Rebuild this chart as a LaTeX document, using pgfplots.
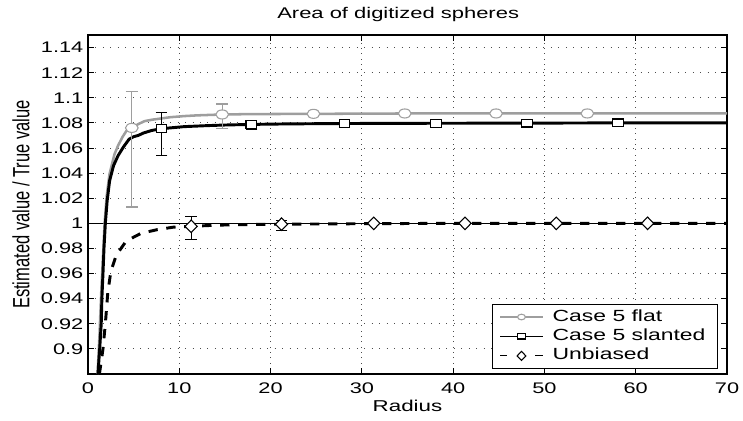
\documentclass[border=0pt]{standalone}
\usepackage{fontspec}
\setmainfont{Liberation Sans}
\usepackage{graphicx}
\usepackage{pgfplots}
\pgfplotsset{compat=1.18}
\definecolor{mgray}{gray}{0.62}
\newcommand{\wide}[1]{\scalebox{1.42}[1]{#1}}
\begin{document}
\begin{tikzpicture}
\begin{axis}[
  scale only axis, width=479.25pt, height=254.25pt,
  xmin=0, xmax=70, ymin=0.88, ymax=1.15,
  xtick={0,10,20,30,40,50,60,70},
  ytick={0.9,0.92,0.94,0.96,0.98,1,1.02,1.04,1.06,1.08,1.1,1.12,1.14},
  /pgf/number format/assume math mode=true,
  xticklabel={\wide{\pgfmathprintnumber{\tick}}},
  yticklabel={\wide{\pgfmathprintnumber{\tick}}},
  tick label style={font=\fontsize{11.5}{14}\selectfont},
  xticklabel style={anchor=base, yshift=-14.3pt},
  tick align=inside, tick pos=both, major tick length=4.5pt,
  every tick/.style={black, line width=0.7pt},
  axis line style={line width=0.8pt},
  grid=major,
  x grid style={black!70, line width=0.6pt, dash pattern=on 0.6pt off 3.4pt},
  y grid style={black!70, line width=0.6pt, dash pattern=on 0.6pt off 5pt},
  title={\wide{Area of digitized spheres}},
  title style={at={(axis description cs:0.5,1)}, anchor=base, yshift=6.5pt, xshift=-7pt, font=\fontsize{11.6}{14}\selectfont},
  xlabel={\wide{Radius}},
  xlabel style={at={(axis description cs:0.5,0)}, anchor=base, yshift=-28.3pt, font=\fontsize{11.8}{14}\selectfont},
  ylabel={\scalebox{1}[1.42]{\fontsize{12.4}{14}\selectfont Estimated value / True value}},
  every axis y label/.style={at={(axis description cs:-0.105,0.5)}, rotate=90, anchor=center},
  legend style={at={(0.986,0.0147)}, anchor=south east, draw=black, line width=0.8pt,
    font=\fontsize{12.1}{14.6}\selectfont, inner xsep=5pt, inner ysep=2.1pt, row sep=0pt,
    column sep=3pt,
    nodes={text height=9pt, text depth=3pt, inner ysep=1.3pt, inner xsep=4pt}, cells={anchor=west}},
  legend cell align=left,
  legend image code/.code={\draw[mark repeat=2,mark phase=2,#1] plot coordinates {(0pt,0pt) (16pt,0pt) (32pt,0pt)};},
]
\coordinate (bl) at (rel axis cs:0,0);
\coordinate (tr) at (rel axis cs:1,1);

% reference line at 1
\addplot[black, line width=0.6pt, forget plot] coordinates {(0,1) (70,1)};

% Case 5 flat (gray line)
\addplot[mgray, line width=1.9pt, forget plot] coordinates {
(1.05,0.88) (1.25,0.91) (1.45,0.945) (1.65,0.975) (1.82,1.0) (2.05,1.022) (2.35,1.039)
(2.9,1.055) (3.3,1.062) (3.8,1.069) (4.2,1.0735) (4.8,1.076) (5.5,1.079) (6.2,1.0814)
(7,1.0825) (8,1.0835) (9,1.0845) (10.5,1.0854) (12,1.086) (14.7,1.0867) (18,1.087)
(25,1.0872) (35,1.0875) (45,1.0875) (55,1.0875) (70,1.0875)};

% Case 5 slanted (black line)
\addplot[black, line width=2.2pt, forget plot] coordinates {
(1.09,0.88) (1.28,0.90) (1.45,0.92) (1.52,0.94) (1.64,0.96) (1.75,0.98) (1.9,1.0)
(2.1,1.018) (2.37,1.034) (2.8,1.046) (3.3,1.054) (3.9,1.061) (4.5,1.067) (5,1.069)
(5.5,1.070) (6.1,1.072) (7,1.074) (8,1.0753) (9,1.076) (10.5,1.077) (13,1.0778)
(15,1.0783) (18,1.0788) (22,1.0792) (28,1.0795) (38,1.0797) (48,1.0798) (58,1.08) (70,1.08)};

% Unbiased (dashed)
\addplot[black, line width=2.2pt, dash pattern=on 7pt off 6.5pt, forget plot] coordinates {
(1.25,0.88) (1.45,0.89) (1.64,0.9) (1.9,0.92) (2.17,0.945) (2.5,0.9615) (3.1,0.9747)
(4.1,0.985) (5,0.989) (5.8,0.992) (6.7,0.9935) (7.6,0.995) (8.5,0.996) (9.4,0.997)
(11.3,0.9976) (14,0.9985) (17,0.999) (21.2,0.9993) (30,0.9997) (40,1.0) (70,1.0)};

% markers with error bars
\addplot[mgray, only marks, mark=*, mark size=3.4pt, line width=0.8pt, forget plot,
  mark options={fill=white, xscale=1.4},
  error bars/.cd, y dir=both, y explicit,
  error bar style={mgray, line width=0.9pt},
  error mark options={mgray, line width=0.9pt, mark size=4.4pt, rotate=90}]
coordinates {
(4.8,1.076) += (0,0.029) -= (0,0.063)
(14.7,1.0867) += (0,0.0084) -= (0,0.011)
(24.7,1.0872) (34.7,1.0875) (44.7,1.0875) (54.7,1.0875)};

\addplot[black, only marks, mark=square*, mark size=2.9pt, line width=0.8pt, forget plot,
  mark options={fill=white, xscale=1.4},
  error bars/.cd, y dir=both, y explicit,
  error bar style={black, line width=0.9pt},
  error mark options={black, line width=0.9pt, mark size=4.4pt, rotate=90}]
coordinates {
(8.05,1.0753) += (0,0.0127) -= (0,0.0215)
(17.9,1.0788) += (0,0.003) -= (0,0.0038)
(28.1,1.0795) (38.1,1.0797) (48.1,1.0798) (58.1,1.08)};

\addplot[black, only marks, mark=diamond*, mark size=4.7pt, line width=0.8pt, forget plot,
  mark options={fill=white, xscale=1.3},
  error bars/.cd, y dir=both, y explicit,
  error bar style={black, line width=0.9pt},
  error mark options={black, line width=0.9pt, mark size=4.4pt, rotate=90}]
coordinates {
(11.3,0.9976) += (0,0.0079) -= (0,0.0106)
(21.2,0.9993) += (0,0.003) -= (0,0.0048)
(31.3,1) (41.3,1) (51.3,1) (61.3,1)};

\addlegendimage{mgray, line width=0.8pt, mark=*, mark size=2.1pt, mark options={fill=white, xscale=1.4}}
\addlegendentry{\wide{Case 5 flat}}
\addlegendimage{black, line width=0.8pt, mark=square*, mark size=1.9pt, mark options={fill=white, xscale=1.4}}
\addlegendentry{\wide{Case 5 slanted}}
\addlegendimage{black, line width=0.8pt, dash pattern=on 5.5pt off 21pt, mark=diamond*, mark size=3.4pt, mark options={fill=white, xscale=1.3, solid}}
\addlegendentry{\wide{Unbiased}}
\end{axis}
\pgfresetboundingbox
\path (bl) ++(-66pt,-34.5pt) coordinate (pbl);
\path (tr) ++(12pt,26.25pt) coordinate (ptr);
\path (pbl) rectangle (ptr);
\end{tikzpicture}
\end{document}
